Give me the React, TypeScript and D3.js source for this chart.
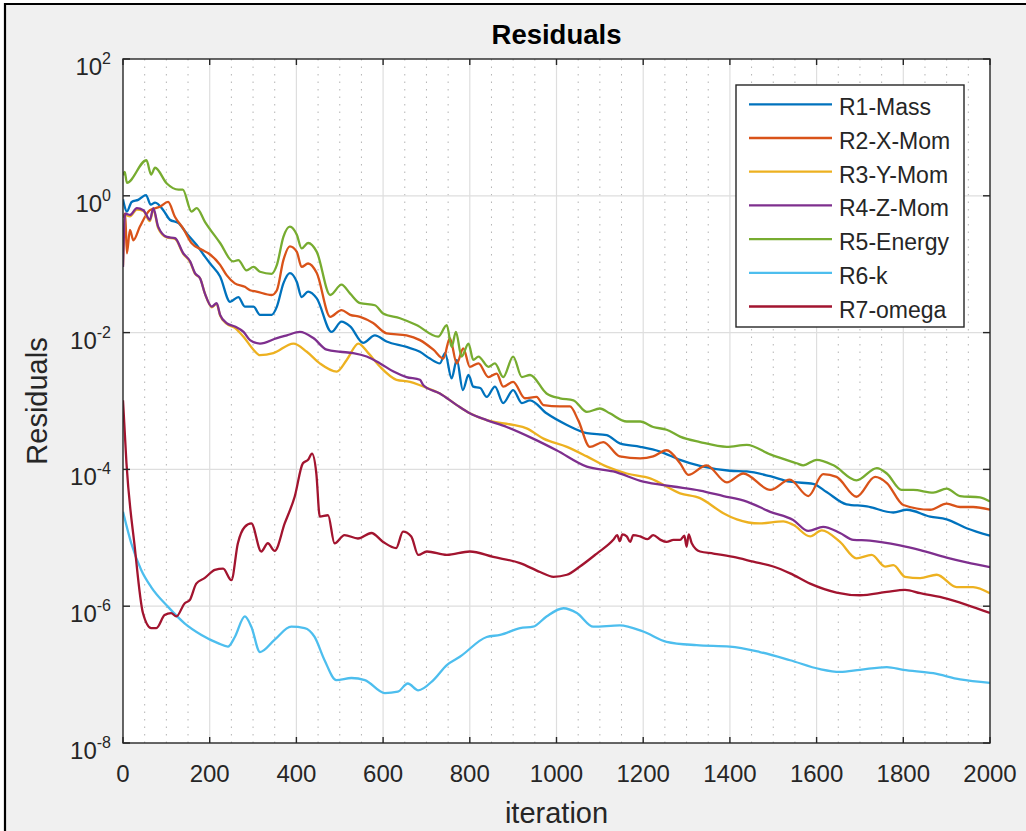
import React from 'react';
import * as d3 from 'd3';

// residual histories, stored as [iteration, log10(residual)]
const r1Mass: [number, number][] = [
  [0, -0.05], [2, -0.11], [9, -0.23], [20, -0.09], [35, -0.06], [53, 0.01], [64, -0.13], [74, -0.1],
  [93, -0.21], [108, -0.35], [128, -0.4], [147, -0.55], [170, -0.72], [189, -0.89], [201, -0.99],
  [224, -1.18], [247, -1.55], [266, -1.48], [281, -1.62], [301, -1.62], [316, -1.74], [343, -1.74],
  [355, -1.62], [370, -1.28], [385, -1.13], [401, -1.26], [412, -1.48], [427, -1.4], [447, -1.5],
  [481, -1.99], [504, -1.84], [524, -1.91], [554, -2.15], [581, -2.04], [608, -2.13], [654, -2.21],
  [685, -2.28], [708, -2.38], [731, -2.45], [743, -2.3], [758, -2.67], [770, -2.4], [784, -2.84],
  [797, -2.62], [808, -2.79], [824, -2.81], [839, -2.94], [858, -2.79], [877, -3.03], [900, -2.84],
  [920, -3.03], [939, -2.99], [977, -3.18], [1024, -3.35], [1070, -3.47], [1116, -3.5], [1146, -3.62],
  [1193, -3.67], [1239, -3.74], [1285, -3.86], [1331, -3.95], [1400, -4.02], [1439, -4.03],
  [1493, -4.1], [1538, -4.18], [1592, -4.21], [1623, -4.33], [1669, -4.51], [1716, -4.54],
  [1777, -4.63], [1808, -4.59], [1862, -4.69], [1900, -4.73], [1946, -4.86], [2000, -4.97],
];

const r2XMom: [number, number][] = [
  [0, -0.32], [5, -0.26], [9, -0.84], [16, -0.5], [24, -0.65], [39, -0.45], [62, -0.21], [85, -0.16],
  [104, -0.09], [120, -0.31], [139, -0.48], [158, -0.69], [182, -0.79], [197, -0.84], [224, -1.01],
  [239, -1.16], [258, -1.28], [281, -1.33], [293, -1.38], [308, -1.4], [343, -1.45], [355, -1.38],
  [370, -0.94], [385, -0.74], [401, -0.82], [412, -1.04], [427, -0.99], [447, -1.13], [478, -1.77],
  [504, -1.67], [524, -1.74], [547, -1.77], [577, -1.86], [608, -2.01], [654, -2.04], [685, -2.11],
  [716, -2.25], [739, -2.38], [754, -2.08], [770, -2.45], [785, -2.23], [800, -2.5], [820, -2.45],
  [843, -2.65], [862, -2.6], [877, -2.79], [900, -2.72], [927, -2.96], [954, -2.94], [970, -3.06],
  [1008, -3.08], [1031, -3.08], [1050, -3.28], [1077, -3.67], [1108, -3.6], [1146, -3.81],
  [1193, -3.84], [1223, -3.81], [1254, -3.72], [1285, -3.91], [1304, -4.08], [1346, -3.94],
  [1393, -4.19], [1431, -4.06], [1493, -4.3], [1538, -4.15], [1581, -4.39], [1615, -4.07],
  [1646, -4.11], [1692, -4.4], [1735, -4.11], [1762, -4.2], [1800, -4.52], [1862, -4.59],
  [1900, -4.5], [1931, -4.55], [1961, -4.55], [2000, -4.59],
];

const r3YMom: [number, number][] = [
  [0, -1.02], [5, -0.28], [16, -0.3], [32, -0.2], [47, -0.22], [62, -0.37], [70, -0.2], [81, -0.47],
  [101, -0.61], [120, -0.63], [139, -0.85], [155, -0.97], [166, -1.14], [178, -1.21], [189, -1.43],
  [205, -1.63], [216, -1.58], [224, -1.75], [239, -1.87], [258, -1.93], [278, -2.06], [301, -2.25],
  [316, -2.33], [347, -2.3], [393, -2.16], [424, -2.28], [454, -2.45], [493, -2.57], [516, -2.4],
  [543, -2.16], [566, -2.3], [593, -2.5], [631, -2.69], [662, -2.72], [685, -2.77], [701, -2.81],
  [731, -2.89], [770, -3.06], [800, -3.18], [839, -3.28], [900, -3.35], [931, -3.4], [970, -3.55],
  [1024, -3.67], [1070, -3.81], [1116, -3.96], [1162, -4.06], [1216, -4.13], [1285, -4.35],
  [1331, -4.42], [1385, -4.64], [1416, -4.73], [1469, -4.79], [1523, -4.76], [1546, -4.81],
  [1585, -4.98], [1612, -4.89], [1654, -5.06], [1692, -5.3], [1727, -5.25], [1758, -5.42],
  [1777, -5.4], [1804, -5.57], [1839, -5.59], [1877, -5.54], [1923, -5.72], [1961, -5.72],
  [2000, -5.81],
];

const r4ZMom: [number, number][] = [
  [0, -1.04], [5, -0.26], [16, -0.28], [32, -0.18], [47, -0.21], [62, -0.35], [70, -0.18], [81, -0.45],
  [101, -0.6], [120, -0.62], [139, -0.84], [155, -0.96], [166, -1.13], [178, -1.21], [189, -1.43],
  [205, -1.62], [216, -1.57], [224, -1.74], [239, -1.86], [258, -1.91], [278, -1.99], [293, -2.11],
  [316, -2.16], [355, -2.08], [378, -2.04], [408, -1.99], [439, -2.08], [470, -2.25], [501, -2.28],
  [531, -2.3], [562, -2.35], [593, -2.45], [624, -2.57], [654, -2.65], [685, -2.69], [693, -2.77],
  [731, -2.89], [770, -3.06], [800, -3.18], [839, -3.28], [885, -3.38], [946, -3.55], [1000, -3.72],
  [1070, -3.96], [1131, -4.03], [1200, -4.18], [1269, -4.25], [1331, -4.31], [1385, -4.39],
  [1439, -4.47], [1493, -4.62], [1546, -4.74], [1581, -4.9], [1615, -4.84], [1654, -4.93],
  [1685, -5.03], [1723, -5.04], [1792, -5.11], [1839, -5.18], [1900, -5.29], [1946, -5.36],
  [2000, -5.43],
];

const r5Energy: [number, number][] = [
  [0, 0.3], [4, 0.35], [9, 0.19], [54, 0.52], [65, 0.31], [74, 0.41], [101, 0.18], [128, 0.09],
  [138, 0.09], [158, -0.23], [170, -0.18], [189, -0.38], [224, -0.69], [254, -0.96], [266, -0.94],
  [285, -1.09], [301, -1.04], [316, -1.11], [343, -1.14], [355, -1.01], [370, -0.6], [385, -0.45],
  [401, -0.57], [412, -0.77], [427, -0.69], [447, -0.82], [478, -1.45], [504, -1.3], [524, -1.43],
  [547, -1.57], [581, -1.6], [600, -1.72], [639, -1.79], [677, -1.89], [727, -2.06], [747, -1.89],
  [758, -2.21], [768, -1.99], [781, -2.35], [797, -2.16], [808, -2.4], [820, -2.35], [843, -2.5],
  [858, -2.45], [877, -2.65], [900, -2.35], [920, -2.65], [939, -2.62], [977, -2.89], [1008, -2.96],
  [1039, -2.99], [1070, -3.16], [1100, -3.11], [1123, -3.18], [1162, -3.3], [1193, -3.3],
  [1223, -3.38], [1254, -3.42], [1285, -3.52], [1331, -3.6], [1393, -3.67], [1439, -3.64],
  [1493, -3.78], [1554, -3.91], [1569, -3.94], [1600, -3.86], [1639, -3.94], [1692, -4.16],
  [1739, -3.98], [1762, -4.06], [1796, -4.3], [1823, -4.3], [1869, -4.34], [1900, -4.28],
  [1931, -4.39], [1977, -4.41], [2000, -4.47],
];

const r6K: [number, number][] = [
  [0, -4.62], [19, -5.08], [42, -5.47], [65, -5.72], [104, -6.01], [142, -6.25], [181, -6.42],
  [219, -6.54], [242, -6.59], [258, -6.45], [281, -6.15], [296, -6.3], [316, -6.67], [350, -6.49],
  [388, -6.3], [419, -6.32], [442, -6.45], [465, -6.79], [492, -7.08], [527, -7.05], [558, -7.08],
  [604, -7.27], [634, -7.25], [657, -7.13], [681, -7.23], [716, -7.08], [747, -6.86], [777, -6.74],
  [839, -6.45], [870, -6.42], [916, -6.32], [946, -6.3], [977, -6.15], [1016, -6.03], [1047, -6.1],
  [1085, -6.3], [1146, -6.28], [1200, -6.37], [1254, -6.52], [1323, -6.57], [1400, -6.59],
  [1469, -6.67], [1539, -6.79], [1608, -6.92], [1654, -6.96], [1700, -6.93], [1762, -6.89],
  [1800, -6.93], [1869, -6.98], [1931, -7.07], [2000, -7.12],
];

const r7Omega: [number, number][] = [
  [0, -2.99], [8, -3.91], [27, -5.13], [46, -6.1], [65, -6.32], [77, -6.32], [96, -6.13],
  [111, -6.1], [123, -6.15], [142, -5.96], [154, -5.91], [169, -5.67], [188, -5.59], [212, -5.47],
  [231, -5.45], [250, -5.62], [265, -5.08], [281, -4.84], [296, -4.79], [319, -5.2], [334, -5.08],
  [350, -5.19], [373, -4.79], [396, -4.4], [415, -3.91], [427, -3.86], [436, -3.77], [446, -4.06],
  [454, -4.69], [473, -4.67], [488, -5.08], [511, -4.96], [542, -5.01], [573, -4.93], [600, -5.06],
  [630, -5.15], [646, -4.91], [665, -4.98], [681, -5.25], [701, -5.2], [747, -5.25], [800, -5.2],
  [854, -5.28], [916, -5.37], [962, -5.5], [993, -5.57], [1024, -5.54], [1054, -5.42],
  [1093, -5.23], [1131, -5.03], [1140, -4.96], [1146, -5.05], [1152, -4.95], [1162, -4.98],
  [1170, -5.06], [1177, -4.96], [1193, -4.98], [1210, -5.02], [1223, -4.96], [1240, -5.03],
  [1254, -5.06], [1270, -5.03], [1285, -5.03], [1295, -4.97], [1300, -5.13], [1305, -4.95],
  [1312, -5.08], [1331, -5.2], [1362, -5.23], [1408, -5.28], [1454, -5.35], [1500, -5.42],
  [1539, -5.52], [1585, -5.67], [1646, -5.8], [1700, -5.84], [1762, -5.79], [1804, -5.76],
  [1839, -5.81], [1900, -5.89], [1946, -5.98], [2000, -6.1],
];

const seriesNames = ['R1-Mass', 'R2-X-Mom', 'R3-Y-Mom', 'R4-Z-Mom', 'R5-Energy', 'R6-k', 'R7-omega'];
const seriesColors = ['#0072BD', '#D95319', '#EDB120', '#7E2F8E', '#77AC30', '#4DBEEE', '#A2142F'];
const allSeries = [r1Mass, r2XMom, r3YMom, r4ZMom, r5Energy, r6K, r7Omega];

const xTicks = [0, 200, 400, 600, 800, 1000, 1200, 1400, 1600, 1800, 2000];
const yTickExps = [2, 0, -2, -4, -6, -8];

const W = 1026;
const H = 831;
const left = 123;
const right = 990;
const top = 59;
const bottom = 743;
const axisColor = '#262626';
const font = 'Liberation Sans, Arial, sans-serif';

export default function App() {
  const x = d3.scaleLinear().domain([0, 2000]).range([left, right]);
  const y = d3.scaleLog().domain([1e-8, 1e2]).range([bottom, top]);

  const line = d3
    .line<[number, number]>()
    .x((d) => x(d[0]))
    .y((d) => y(Math.pow(10, d[1])))
    .curve(d3.curveMonotoneX);

  const minorX = d3.range(50, 2000, 50).filter((v) => v % 200 !== 0);

  const legX = 736;
  const legY = 85;
  const rowH = 33.7;

  return (
    <svg
      width={W}
      height={H}
      style={{ position: 'absolute', left: 0, top: 0, fontFamily: font }}
    >
      <rect x={0} y={0} width={W} height={H} fill="#ffffff" />
      <rect x={5} y={4} width={W - 5} height={H - 4} fill="#f0f0f0" />
      <line x1={5} x2={5} y1={3} y2={H} stroke="#000" strokeWidth={2.2} />
      <line x1={4} x2={W} y1={4} y2={4} stroke="#000" strokeWidth={2.2} />

      <rect x={left} y={top} width={right - left} height={bottom - top} fill="#ffffff" />

      {/* minor vertical grid (dotted) */}
      {minorX.map((v) => (
        <line
          key={'m' + v}
          x1={x(v)}
          x2={x(v)}
          y1={top}
          y2={bottom}
          stroke="#b4b4b4"
          strokeWidth={1}
          strokeDasharray="1.5 6"
        />
      ))}
      {/* major grid */}
      {xTicks.slice(1, -1).map((v) => (
        <line key={'gx' + v} x1={x(v)} x2={x(v)} y1={top} y2={bottom} stroke="#dedede" strokeWidth={1.2} />
      ))}
      {yTickExps.slice(1, -1).map((e) => (
        <line
          key={'gy' + e}
          x1={left}
          x2={right}
          y1={y(Math.pow(10, e))}
          y2={y(Math.pow(10, e))}
          stroke="#dedede"
          strokeWidth={1.2}
        />
      ))}

      {/* series */}
      <g clipPath="url(#plotClip)">
        {allSeries.map((s, i) => (
          <path
            key={seriesNames[i]}
            d={line(s) || ''}
            fill="none"
            stroke={seriesColors[i]}
            strokeWidth={2.3}
            strokeLinejoin="round"
          />
        ))}
      </g>
      <defs>
        <clipPath id="plotClip">
          <rect x={left} y={top} width={right - left} height={bottom - top} />
        </clipPath>
      </defs>

      {/* axes box + ticks */}
      <rect x={left} y={top} width={right - left} height={bottom - top} fill="none" stroke={axisColor} strokeWidth={1.4} />
      {xTicks.map((v) => (
        <g key={'tx' + v}>
          <line x1={x(v)} x2={x(v)} y1={bottom} y2={bottom - 6} stroke={axisColor} strokeWidth={1.4} />
          <line x1={x(v)} x2={x(v)} y1={top} y2={top + 6} stroke={axisColor} strokeWidth={1.4} />
          <text x={x(v)} y={bottom + 39} textAnchor="middle" fontSize={24} fill={axisColor}>
            {v}
          </text>
        </g>
      ))}
      {yTickExps.map((e) => {
        const yy = y(Math.pow(10, e));
        return (
          <g key={'ty' + e}>
            <line x1={left} x2={left + 7} y1={yy} y2={yy} stroke={axisColor} strokeWidth={1.4} />
            <line x1={right} x2={right - 7} y1={yy} y2={yy} stroke={axisColor} strokeWidth={1.4} />
            <text x={111} y={yy + 16} textAnchor="end" fontSize={24} fill={axisColor}>
              <tspan>10</tspan>
              <tspan dy={-11} fontSize={16}>
                {e}
              </tspan>
            </text>
          </g>
        );
      })}

      {/* title and labels */}
      <text x={(left + right) / 2} y={44} textAnchor="middle" fontSize={27.5} fontWeight="bold" fill="#000">
        Residuals
      </text>
      <text
        transform={`translate(47, ${(top + bottom) / 2}) rotate(-90)`}
        textAnchor="middle"
        fontSize={29}
        fill={axisColor}
      >
        Residuals
      </text>
      <text x={(left + right) / 2} y={823} textAnchor="middle" fontSize={29} fill={axisColor}>
        iteration
      </text>

      {/* legend */}
      <rect x={legX} y={legY} width={228} height={242} fill="#ffffff" stroke={axisColor} strokeWidth={1.4} />
      {seriesNames.map((name, i) => {
        const ry = 104.3 + i * rowH;
        return (
          <g key={'lg' + name}>
            <line x1={749} x2={832} y1={ry} y2={ry} stroke={seriesColors[i]} strokeWidth={2.3} />
            <text x={839} y={ry + 11} fontSize={23} fill={axisColor}>
              {name}
            </text>
          </g>
        );
      })}
    </svg>
  );
}
